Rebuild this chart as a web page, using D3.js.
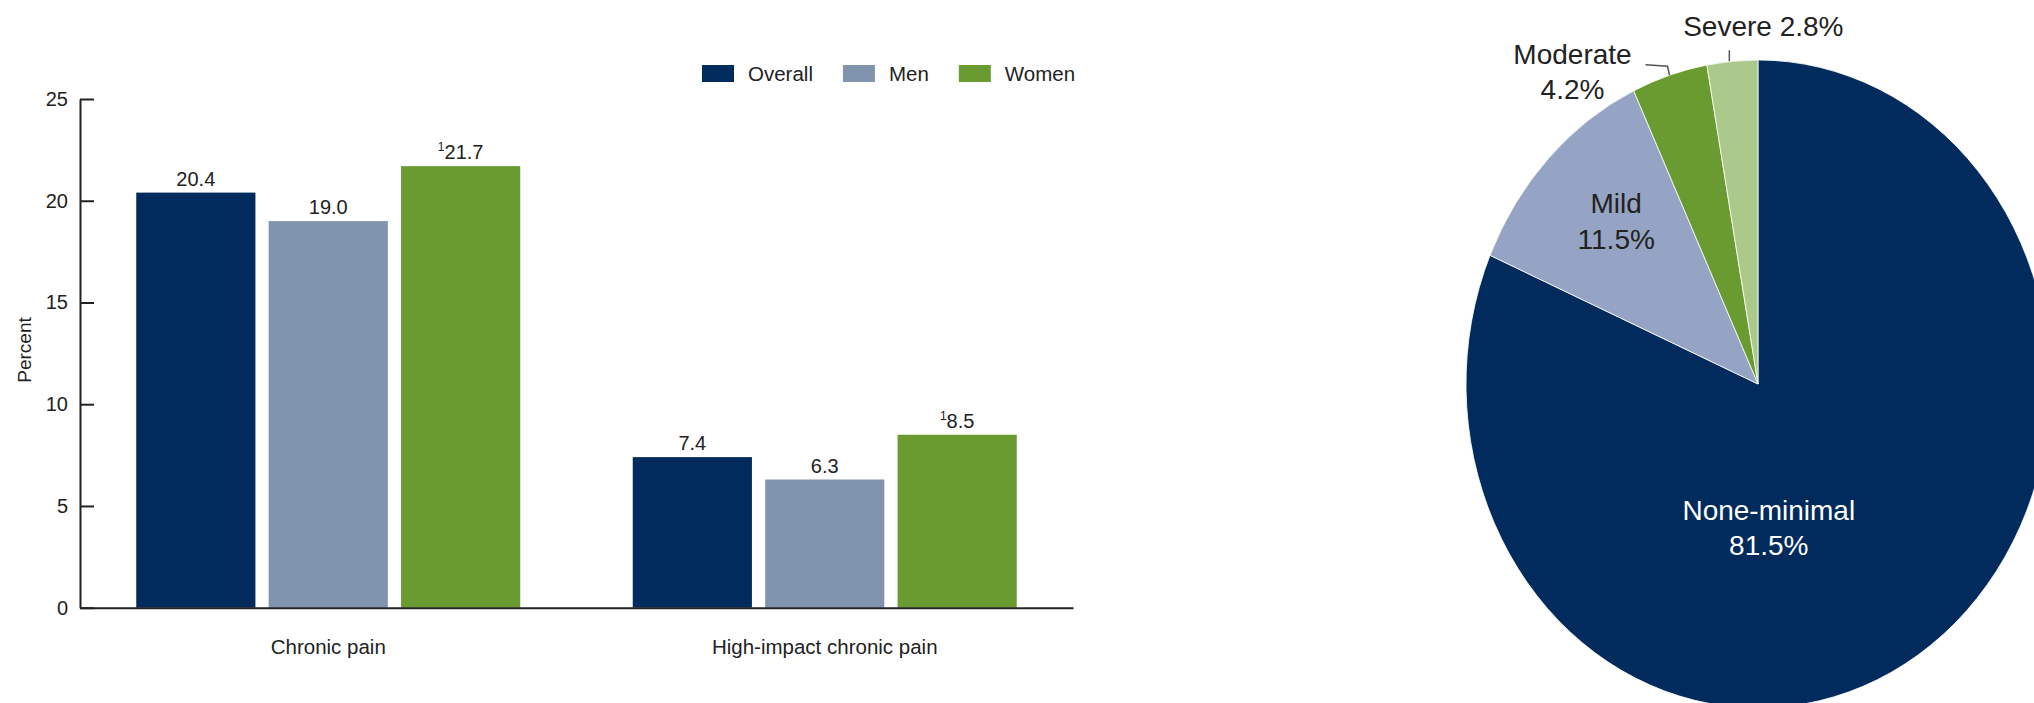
<!DOCTYPE html>
<html>
<head>
<meta charset="utf-8">
<script src="https://cdn.jsdelivr.net/npm/d3@7"></script>
<style>
  html, body { margin: 0; padding: 0; background: #fff; }
  svg { display: block; font-family: "Liberation Sans", Arial, sans-serif; }
</style>
</head>
<body>
<svg id="chart" width="2034" height="703"></svg>
<script>
// Prevalence of chronic pain by sex (percent)
const categories = ["Chronic pain", "High-impact chronic pain"];
const seriesNames = ["Overall", "Men", "Women"];
const overallValues = [20.4, 7.4];
const menValues = [19.0, 6.3];
const womenValues = [21.7, 8.5];
const seriesFootnote = ["", "", "1"];   // superscript note shown before a series' labels
const yTicks = [0, 5, 10, 15, 20, 25];

// Severity of pain, percent distribution
const severityNames = ["None-minimal", "Mild", "Moderate", "Severe"];
const severityShares = [81.5, 11.5, 4.2, 2.8];

const ink = "#222";
const seriesColors = ["#002b5c", "#8094ad", "#6a9b30"];
const severityColors = ["#002b5c", "#95a4c4", "#6a9b30", "#abc98a"];

const svg = d3.select("#chart");
const seriesValues = [overallValues, menValues, womenValues];

// ---------- grouped bar chart ----------
const x0 = d3.scaleBand().domain(categories).range([80, 1073]).padding(0);
const groupWidth = 384;
const x1 = d3.scaleBand().domain(seriesNames).range([0, groupWidth]).paddingInner(0.1).paddingOuter(0);
const y = d3.scaleLinear().domain([0, 25]).range([607.7, 99]);

const bars = svg.append("g");

// y axis with inward ticks
const yAxis = bars.append("g")
  .attr("transform", "translate(80,0)")
  .call(d3.axisLeft(y).tickValues(yTicks).tickSizeInner(-14).tickSizeOuter(0).tickPadding(12));
yAxis.select(".domain").attr("stroke", ink).attr("stroke-width", 2);
yAxis.selectAll(".tick line").attr("stroke", ink).attr("stroke-width", 2);
yAxis.selectAll(".tick text")
  .attr("fill", ink).style("font-size", "20px").style("font-family", "'Liberation Sans', Arial, sans-serif");

bars.append("text")
  .attr("transform", "translate(31,350) rotate(-90)")
  .attr("text-anchor", "middle")
  .attr("fill", ink)
  .style("font-size", "19px")
  .text("Percent");

// group data
const rows = categories.map((c, i) => ({
  category: c,
  items: seriesNames.map((s, j) => ({ series: s, idx: j, value: seriesValues[j][i] }))
}));

const groups = bars.selectAll("g.group").data(rows).join("g")
  .attr("class", "group")
  .attr("transform", d => `translate(${x0(d.category) + x0.bandwidth() / 2 - groupWidth / 2},0)`);

groups.selectAll("rect").data(d => d.items).join("rect")
  .attr("x", d => x1(d.series))
  .attr("width", x1.bandwidth())
  .attr("y", d => y(d.value))
  .attr("height", d => y(0) - y(d.value))
  .attr("fill", d => seriesColors[d.idx]);

const valueLabels = groups.selectAll("text.value").data(d => d.items).join("text")
  .attr("class", "value")
  .attr("x", d => x1(d.series) + x1.bandwidth() / 2)
  .attr("y", d => y(d.value) - 7)
  .attr("text-anchor", "middle")
  .attr("fill", ink)
  .style("font-size", "20px");
valueLabels.each(function (d) {
  const t = d3.select(this);
  const note = seriesFootnote[d.idx];
  if (note) {
    t.append("tspan").style("font-size", "12px").attr("dy", "-8").text(note);
    t.append("tspan").attr("dy", "8").text(d.value.toFixed(1));
  } else {
    t.text(d.value.toFixed(1));
  }
});

// x axis line with category names
const xAxis = bars.append("g")
  .attr("transform", `translate(0,${y(0)})`)
  .call(d3.axisBottom(x0).tickSize(0).tickPadding(32));
xAxis.select(".domain").attr("stroke", ink).attr("stroke-width", 2);
xAxis.selectAll(".tick text")
  .attr("fill", ink).style("font-size", "20.5px").style("font-family", "'Liberation Sans', Arial, sans-serif");

// legend
const legend = svg.append("g").attr("transform", "translate(702,0)");
let lx = 0;
seriesNames.forEach((name, i) => {
  const item = legend.append("g").attr("transform", `translate(${lx},0)`);
  item.append("rect").attr("x", 0).attr("y", 65).attr("width", 32).attr("height", 17)
    .attr("fill", seriesColors[i]);
  const t = item.append("text").attr("x", 46).attr("y", 80.5)
    .attr("fill", ink).style("font-size", "20.5px").text(name);
  lx += 46 + t.node().getComputedTextLength() + 30;
});

// ---------- severity pie (elliptical) ----------
const cx = 1758, cy = 384, rx = 292, ry = 324;
const pie = d3.pie().sort(null).value(d => d).startAngle(0).endAngle(2 * Math.PI);
const slices = pie(severityShares).map((s, i) => ({ ...s, name: severityNames[i], share: severityShares[i], i }));
const arc = d3.arc().innerRadius(0).outerRadius(rx);

const pieG = svg.append("g");
pieG.append("g")
  .attr("transform", `translate(${cx},${cy}) scale(1,${ry / rx})`)
  .selectAll("path").data(slices).join("path")
  .attr("d", arc)
  .attr("fill", d => severityColors[d.i])
  .attr("stroke", "#fff")
  .attr("stroke-width", 0.8)
  .attr("vector-effect", "non-scaling-stroke");

// point on the ellipse at a clockwise angle from 12 o'clock, at a fraction of the radius
const at = (a, f) => [cx + Math.sin(a) * rx * f, cy - Math.cos(a) * ry * f];
const mid = s => (s.startAngle + s.endAngle) / 2;
const pct = v => v.toFixed(1) + "%";

function twoLine(x, yTop, l1, l2, color) {
  const t = pieG.append("text").attr("text-anchor", "middle").attr("fill", color).style("font-size", "28px");
  t.append("tspan").attr("x", x).attr("y", yTop).text(l1);
  t.append("tspan").attr("x", x).attr("y", yTop + 35.5).text(l2);
}

// None-minimal: inside, lower half
{
  const s = slices[0];
  const [px, py] = at(Math.PI * 0.972, 0.42);
  twoLine(px, py, s.name, pct(s.share), "#fff");
}
// Mild: inside its slice
{
  const s = slices[1];
  const [px, py] = at(mid(s), 0.7);
  twoLine(px + 5, py - 13, s.name, pct(s.share), ink);
}
// Moderate: outside with an elbow leader
{
  const s = slices[2];
  const [ex, ey] = at(mid(s), 1.0);
  const topY = ey - 9, endX = ex - 24;
  pieG.append("path")
    .attr("d", `M${ex},${ey}L${ex - 2},${topY}L${endX},${topY - 1.5}`)
    .attr("fill", "none").attr("stroke", "#555").attr("stroke-width", 1.5);
  twoLine(endX - 73, topY - 2.5, s.name, pct(s.share), ink);
}
// Severe: above with a short vertical leader
{
  const s = slices[3];
  const [ex, ey] = at(mid(s), 1.0);
  pieG.append("path")
    .attr("d", `M${ex - 3},${ey}L${ex - 3},${ey - 11}`)
    .attr("fill", "none").attr("stroke", "#555").attr("stroke-width", 1.5);
  pieG.append("text").attr("x", ex + 31).attr("y", 36)
    .attr("text-anchor", "middle").attr("fill", ink).style("font-size", "28px")
    .text(`${s.name} ${pct(s.share)}`);
}
</script>
</body>
</html>
